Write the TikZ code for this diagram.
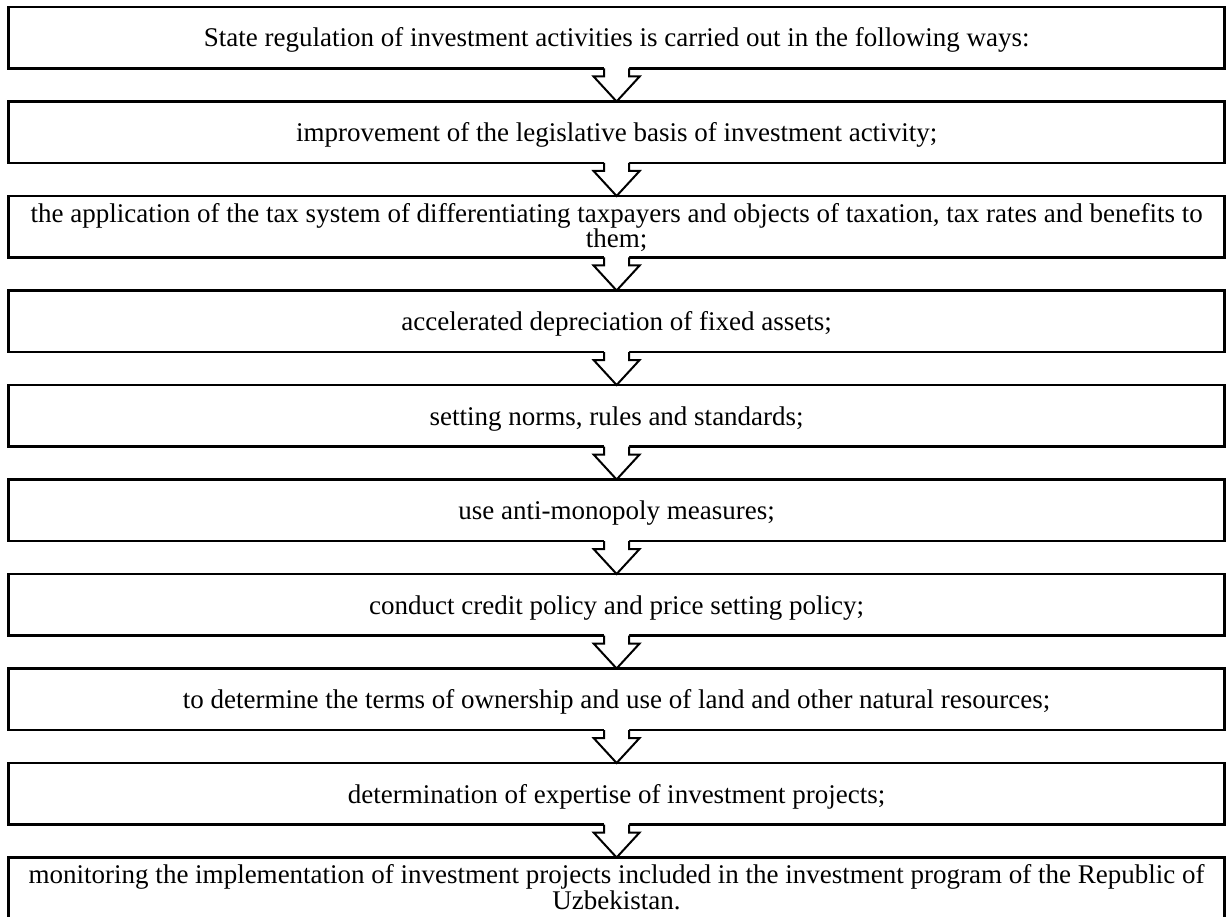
\documentclass[tikz,border=0pt]{standalone}
\usepackage{fontspec}
\setmainfont{Liberation Serif}
\usetikzlibrary{calc}

% hollow block arrow between two stacked stages
\newcommand\flowstep[2]{%
  \fill[white] ([xshift=-12.5pt,yshift=1.6pt]#1.south) -- ([xshift=-12.5pt,yshift=-8pt]#1.south)
    -- ([xshift=-23pt,yshift=-8pt]#1.south) -- (#2.north)
    -- ([xshift=23pt,yshift=-8pt]#1.south) -- ([xshift=12.5pt,yshift=-8pt]#1.south)
    -- ([xshift=12.5pt,yshift=1.6pt]#1.south) -- cycle;
  \draw[flowarrow] ([xshift=-12.5pt]#1.south) -- ([xshift=-12.5pt,yshift=-8pt]#1.south)
    -- ([xshift=-23pt,yshift=-8pt]#1.south) -- (#2.north)
    -- ([xshift=23pt,yshift=-8pt]#1.south) -- ([xshift=12.5pt,yshift=-8pt]#1.south)
    -- ([xshift=12.5pt]#1.south);
}

\begin{document}
\begin{tikzpicture}[x=1pt,y=1pt,
  stage/.style={draw=black, line width=2.6pt, fill=white, minimum width=1215.7pt,
    minimum height=61.5pt, inner sep=0pt, outer sep=0pt, anchor=north},
  caption/.style={font=\fontsize{27}{24.5}\selectfont, inner sep=0pt, align=center},
  oneline/.style={caption, anchor=base},
  twoline/.style={caption, anchor=north},
  flowarrow/.style={draw=black, line width=2pt, line join=miter},
]
\fill[white] (0,0) rectangle (1229,-917);
\useasboundingbox (0,0) rectangle (1229,-917);
\clip (0,0) rectangle (1229,-917);

% stages, top to bottom
\foreach \i/\y in {1/7, 2/101.5, 3/196, 4/290.5, 5/385, 6/479.5, 7/574, 8/668.5, 9/763, 10/857.5}
  \node[stage] (b\i) at (616.6,-\y) {};

% texts
\node[oneline] (t1) at ([yshift=-40pt]b1.north) {State regulation of investment activities is carried out in the following ways:};
\node[oneline] (t2) at ([yshift=-40pt]b2.north) {improvement of the legislative basis of investment activity;};
\node[twoline] (t3) at ([yshift=-7pt]b3.north) {the application of the tax system of differentiating taxpayers and objects of taxation, tax rates and benefits to\\ them;};
\node[oneline] (t4) at ([yshift=-40pt]b4.north) {accelerated depreciation of fixed assets;};
\node[oneline] (t5) at ([yshift=-40pt]b5.north) {setting norms, rules and standards;};
\node[oneline] (t6) at ([yshift=-40pt]b6.north) {use anti-monopoly measures;};
\node[oneline] (t7) at ([yshift=-40pt]b7.north) {conduct credit policy and price setting policy;};
\node[oneline] (t8) at ([yshift=-40pt]b8.north) {to determine the terms of ownership and use of land and other natural resources;};
\node[oneline] (t9) at ([yshift=-40pt]b9.north) {determination of expertise of investment projects;};
\node[twoline] (t10) at ([yshift=-7pt]b10.north) {monitoring the implementation of investment projects included in the investment program of the Republic of\\ Uzbekistan.};

% connecting arrows
\foreach \i [evaluate=\i as \j using int(\i+1)] in {1,...,9}
  {\flowstep{b\i}{b\j}}
\end{tikzpicture}
\end{document}
